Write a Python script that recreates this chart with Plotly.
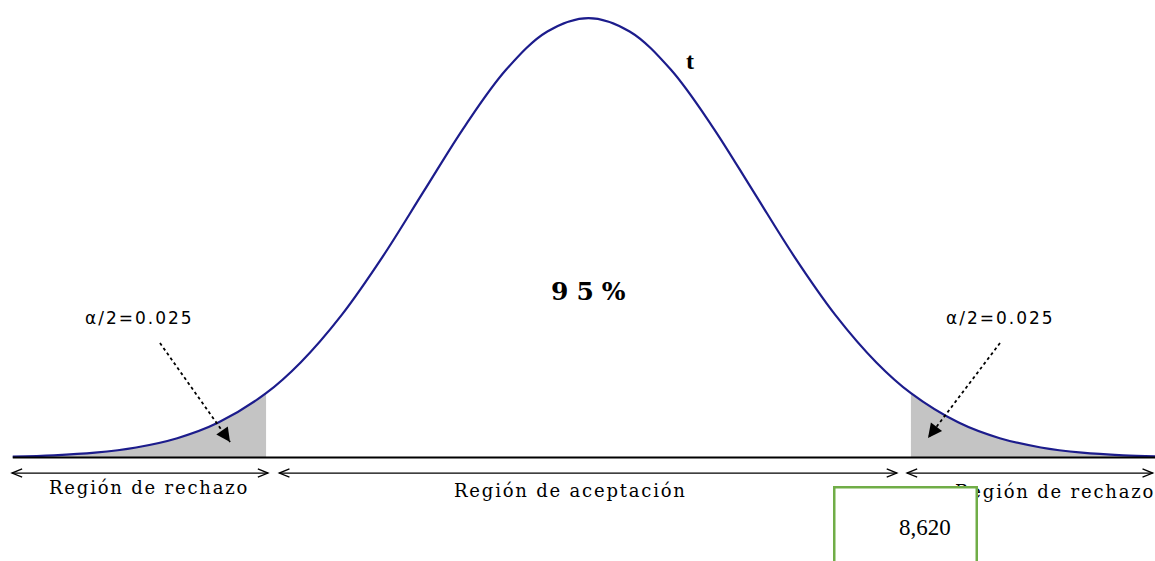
import plotly.graph_objects as go

# ---- data (standard normal shape of the t curve) ----
z_vals = [-3.5, -3.25, -3.0, -2.75, -2.5, -2.25, -1.96, -1.75, -1.5, -1.25, -1.0,
          -0.75, -0.5, -0.25, 0.0, 0.25, 0.5, 0.75, 1.0, 1.25, 1.5, 1.75, 1.96,
          2.25, 2.5, 2.75, 3.0, 3.25, 3.5]
density = [0.0009, 0.0020, 0.0044, 0.0091, 0.0175, 0.0317, 0.0584, 0.0863, 0.1295,
           0.1826, 0.2420, 0.3011, 0.3521, 0.3867, 0.3989, 0.3867, 0.3521, 0.3011,
           0.2420, 0.1826, 0.1295, 0.0863, 0.0584, 0.0317, 0.0175, 0.0091, 0.0044,
           0.0020, 0.0009]
z_crit = 1.96
alpha_label = "α/2=0.025"
center_label = "95%"
curve_label = "t"
region_labels = ["Región de rechazo", "Región de aceptación", "Región de rechazo"]
box_value = "8,620"

# ---- styling ----
CURVE = "#1c1c8c"
SHADE = "#c4c4c4"
SERIF = "Liberation Serif"
WIDE_SERIF = "DejaVu Serif"

left_z = [z for z in z_vals if z <= -z_crit]
left_d = [d for z, d in zip(z_vals, density) if z <= -z_crit]
right_z = [z for z in z_vals if z >= z_crit]
right_d = [d for z, d in zip(z_vals, density) if z >= z_crit]

fig = go.Figure()
for xs, ys in [(left_z, left_d), (right_z, right_d)]:
    fig.add_trace(go.Scatter(x=xs, y=ys, mode="lines", fill="tozeroy",
                             fillcolor=SHADE, line=dict(width=0, color=SHADE, shape="spline"),
                             hoverinfo="skip", showlegend=False))
fig.add_trace(go.Scatter(x=z_vals, y=density, mode="lines",
                         line=dict(color=CURVE, width=2.2, shape="spline"),
                         hoverinfo="skip", showlegend=False))

shapes = []
# baseline
shapes.append(dict(type="line", xref="x", yref="y", x0=z_vals[0], x1=3.6, y0=0, y1=0,
                   line=dict(color="black", width=2), layer="above"))

# double-headed arrows beneath
ya = -0.0141
hx, hy = 0.062, 0.0038
for x0, x1 in [(-3.505, -1.948), (-1.88, 1.875), (1.936, 3.43)]:
    shapes.append(dict(type="line", xref="x", yref="y", x0=x0, x1=x1, y0=ya, y1=ya,
                       line=dict(color="black", width=1.3)))
    shapes.append(dict(type="path", xref="x", yref="y",
                       path=f"M {x0+hx},{ya+hy} L {x0},{ya} L {x0+hx},{ya-hy}",
                       line=dict(color="black", width=1.3)))
    shapes.append(dict(type="path", xref="x", yref="y",
                       path=f"M {x1-hx},{ya+hy} L {x1},{ya} L {x1-hx},{ya-hy}",
                       line=dict(color="black", width=1.3)))

# dotted pointer arrows
pointers = [((-2.605, 0.1039), (-2.179, 0.0141), (-8, -11.5)),
            ((2.5015, 0.1039), (2.064, 0.0177), (8.5, -11.2))]
for (tx, ty), (hx2, hy2), _ in pointers:
    shapes.append(dict(type="line", xref="x", yref="y", x0=tx, y0=ty, x1=hx2, y1=hy2,
                       line=dict(color="black", width=1.8, dash="dot")))

def spaced(t, sp):
    return f'<span style="letter-spacing:{sp}px">{t}</span>'

ann = []
for (tx, ty), (hx2, hy2), (ax, ay) in pointers:
    ann.append(dict(x=hx2, y=hy2, xref="x", yref="y", text="", showarrow=True,
                    ax=ax, ay=ay, arrowhead=2, arrowsize=2, arrowwidth=1.4,
                    arrowcolor="black"))

for x, lab in [(-2.73, alpha_label), (2.503, alpha_label)]:
    ann.append(dict(x=x, y=0.1266, xref="x", yref="y", text=spaced(lab, 2),
                    showarrow=False, font=dict(family="DejaVu Sans", size=17, color="black")))

ann.append(dict(x=0.027, y=0.1511, xref="x", yref="y", text=spaced(f"<b>{center_label}</b>", 8),
                showarrow=False, font=dict(family=WIDE_SERIF, size=25, color="black")))
ann.append(dict(x=0.617, y=0.3599, xref="x", yref="y", text=f"<b>{curve_label}</b>",
                showarrow=False, font=dict(family=SERIF, size=24, color="black")))

for x, y, lab in [(-2.672, -0.0268, region_labels[0]), (-0.112, -0.0295, region_labels[1]),
                  (2.834, -0.0313, region_labels[2])]:
    ann.append(dict(x=x, y=y, xref="x", yref="y", text=spaced(lab, 1.8), showarrow=False,
                    font=dict(family=WIDE_SERIF, size=18, color="black")))

# green text box (covers part of the right label)
ann.append(dict(x=905 / 1155, y=1 - 486 / 561, xref="paper", yref="paper",
                xanchor="center", yanchor="top", text=" ", showarrow=False,
                width=140, height=90, bgcolor="white", bordercolor="#70AD47",
                borderwidth=2.5, borderpad=0))
ann.append(dict(x=925 / 1155, y=1 - 527 / 561, xref="paper", yref="paper",
                xanchor="center", yanchor="middle",
                text=box_value, showarrow=False,
                font=dict(family=SERIF, size=23, color="black")))

fig.update_layout(
    width=1155, height=561, margin=dict(l=0, r=0, t=0, b=0),
    paper_bgcolor="white", plot_bgcolor="white",
    xaxis=dict(range=[-3.5775, 3.4438], visible=False, fixedrange=True),
    yaxis=dict(range=[-0.09395, 0.41527], visible=False, fixedrange=True),
    shapes=shapes, annotations=ann, showlegend=False,
)

fig.write_html("out.html", config={"displayModeBar": False},
               post_script="document.body.style.margin='0';document.body.style.overflow='hidden';")
